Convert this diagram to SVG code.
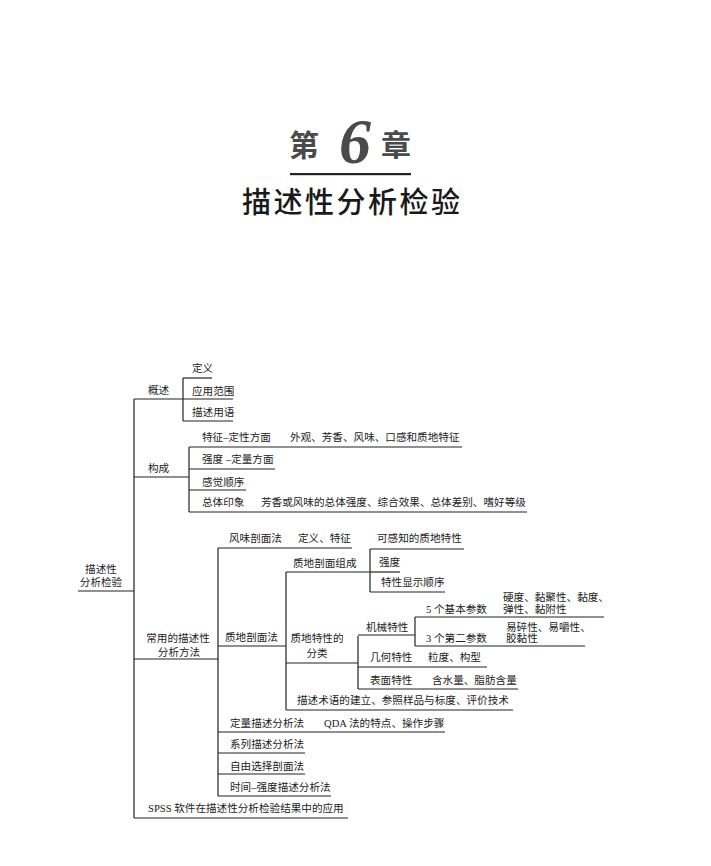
<svg xmlns="http://www.w3.org/2000/svg" width="711" height="866" viewBox="0 0 711 866">
<style>
.t{font-family:"Liberation Serif","Noto Sans CJK SC",serif;font-size:10.6px;fill:#222}
.m{text-anchor:middle}
.l{stroke:#222;stroke-width:1.2;fill:none}
.tt{font-family:"Noto Sans CJK SC",sans-serif;font-weight:700;font-size:30px;fill:#4a4a4a}
</style>
<rect width="711" height="866" fill="#fff"/>
<g id="title">
<text class="tt" x="289" y="156">第</text>
<text x="339" y="163" style="font-family:'Liberation Serif',serif;font-weight:700;font-style:italic;font-size:64px;fill:#4a4a4a">6</text>
<text class="tt" x="381" y="156">章</text>
<rect x="290" y="173" width="121" height="2.2" fill="#222"/>
<text x="242" y="213" style="font-family:'Noto Sans CJK SC',sans-serif;font-weight:500;font-size:29px;fill:#1a1a1a;letter-spacing:2.5px">描述性分析检验</text>
</g>
<g id="connectors" class="l">
<path d="M134 399V818"/>
<path d="M183 378V421"/>
<path d="M189 447V512"/>
<path d="M218 548V796"/>
<path d="M370 549V592"/>
<path d="M286 572V710"/>
<path d="M358 636V689"/>
<path d="M415 617V646"/>
</g>
<g id="root"><text class="t m" x="101" y="573">描述性</text><text class="t m" x="101" y="586">分析检验</text><path class="l" d="M78 591H134"/></g>
<g id="gaishu"><text class="t" x="148" y="394">概述</text><path class="l" d="M134 399H183"/></g>
<g id="dingyi"><text class="t" x="192" y="372">定义</text><path class="l" d="M183 378H212"/></g>
<g id="yingyong"><text class="t" x="192" y="395">应用范围</text><path class="l" d="M183 399H233"/></g>
<g id="shuyu"><text class="t" x="192" y="416">描述用语</text><path class="l" d="M183 421H233"/></g>
<g id="goucheng"><text class="t" x="148" y="472">构成</text><path class="l" d="M134 477H189"/></g>
<g id="tezheng"><text class="t" x="202" y="441">特征–定性方面</text><text class="t" x="290" y="441">外观、芳香、风味、口感和质地特征</text><path class="l" d="M189 447H462"/></g>
<g id="qiangdu1"><text class="t" x="202" y="463">强度 –定量方面</text><path class="l" d="M189 469H275"/></g>
<g id="ganjue"><text class="t" x="202" y="486">感觉顺序</text><path class="l" d="M189 490H246"/></g>
<g id="zongti"><text class="t" x="202" y="506">总体印象</text><text class="t" x="261" y="506">芳香或风味的总体强度、综合效果、总体差别、嗜好等级</text><path class="l" d="M189 512H527"/></g>
<g id="changyong"><text class="t m" x="178" y="642">常用的描述性</text><text class="t m" x="179" y="656">分析方法</text><path class="l" d="M134 659H218"/></g>
<g id="fengwei"><text class="t" x="229" y="542">风味剖面法</text><text class="t" x="298" y="542">定义、特征</text><path class="l" d="M218 548H352"/></g>
<g id="zhidi"><text class="t" x="225" y="641">质地剖面法</text><path class="l" d="M218 646H286"/></g>
<g id="zucheng"><text class="t" x="293" y="567">质地剖面组成</text><path class="l" d="M286 572H370"/></g>
<g id="kegan"><text class="t" x="377" y="542">可感知的质地特性</text><path class="l" d="M370 549H464"/></g>
<g id="qiangdu2"><text class="t" x="379" y="566">强度</text><path class="l" d="M370 572H400"/></g>
<g id="xianshi"><text class="t" x="381" y="586">特性显示顺序</text><path class="l" d="M370 592H445"/></g>
<g id="fenlei"><text class="t m" x="317" y="642">质地特性的</text><text class="t m" x="317" y="657">分类</text><path class="l" d="M286 663H358"/></g>
<g id="jixie"><text class="t" x="366" y="631">机械特性</text><path class="l" d="M358 635H415"/></g>
<g id="jiben"><text class="t" x="426" y="613">5 个基本参数</text><text class="t" x="503" y="601">硬度、黏聚性、黏度、</text><text class="t" x="503" y="613">弹性、黏附性</text><path class="l" d="M415 617H604"/></g>
<g id="dier"><text class="t" x="426" y="642">3 个第二参数</text><text class="t" x="506" y="631">易碎性、易嚼性、</text><text class="t" x="506" y="642">胶黏性</text><path class="l" d="M415 646H585"/></g>
<g id="jihe"><text class="t" x="370" y="661">几何特性</text><text class="t" x="428" y="661">粒度、构型</text><path class="l" d="M358 667H487"/></g>
<g id="biaomian"><text class="t" x="370" y="684">表面特性</text><text class="t" x="432" y="684">含水量、脂肪含量</text><path class="l" d="M358 689H518"/></g>
<g id="shuyujianli"><text class="t" x="297" y="704">描述术语的建立、参照样品与标度、评价技术</text><path class="l" d="M286 710H513"/></g>
<g id="dingliang"><text class="t" x="230" y="727">定量描述分析法</text><text class="t" x="324" y="727">QDA 法的特点、操作步骤</text><path class="l" d="M218 732H445"/></g>
<g id="xilie"><text class="t" x="230" y="748">系列描述分析法</text><path class="l" d="M218 753H305"/></g>
<g id="ziyou"><text class="t" x="230" y="770">自由选择剖面法</text><path class="l" d="M218 774H305"/></g>
<g id="shijian"><text class="t" x="230" y="791">时间–强度描述分析法</text><path class="l" d="M218 796H331"/></g>
<g id="spss"><text class="t" x="148" y="812">SPSS 软件在描述性分析检验结果中的应用</text><path class="l" d="M134 818H348"/></g>
</svg>
